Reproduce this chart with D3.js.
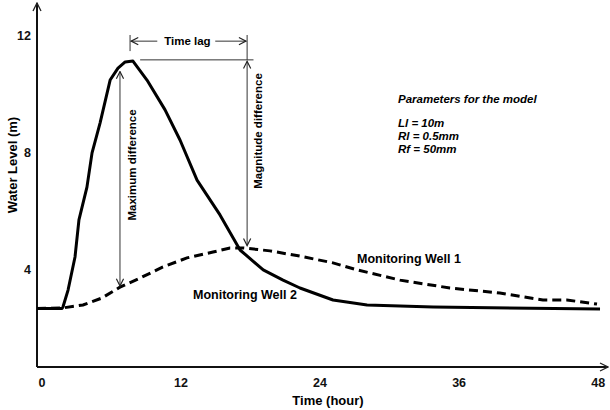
<!DOCTYPE html>
<html><head><meta charset="utf-8">
<script src="https://cdn.jsdelivr.net/npm/d3@7"></script>
<style>
body{margin:0;background:#fff;}
text{font-family:"Liberation Sans",Arial,sans-serif;}
</style></head>
<body><svg id="c" width="610" height="410"></svg>
<script>
// ---- data ----
const well2Hours  = [-0.38,1.78,1.86,2.30,2.90,3.24,3.93,4.37,5.06,5.93,6.61,7.23,7.90,9.11,10.67,11.96,13.43,15.41,17.14,19.14,20.85,22.31,25.16,28.1,33.8,48.2];
const well2Levels = [2.65,2.65,2.70,3.28,4.41,5.68,6.80,7.97,8.99,10.46,10.87,11.08,11.11,10.46,9.44,8.41,7.04,5.85,4.65,3.97,3.62,3.35,2.94,2.77,2.70,2.63];
const well1Hours  = [-0.38,1.86,3.59,5.23,6.78,8.51,10.49,12.56,14.81,16.27,17.39,19.72,22.31,25.16,27.23,30.94,35.25,39.56,43.27,45.34,47.94];
const well1Levels = [2.65,2.67,2.77,3.01,3.38,3.69,4.07,4.38,4.58,4.72,4.72,4.62,4.44,4.21,3.97,3.62,3.35,3.18,2.94,2.94,2.80];
const xTicks = [0,12,24,36,48];
const yTicks = [4,8,12];
const paramLines = ["Ll = 10m","Rl = 0.5mm","Rf = 50mm"];

const svg = d3.select("#c");
const x = d3.scaleLinear().domain([0,48]).range([41.4,597.7]);
const y = d3.scaleLinear().domain([4,12]).range([269,35]);
const axisY0 = 367, axisX0 = 37;

const defs = svg.append("defs");
function marker(id, w){
  defs.append("marker").attr("id",id).attr("viewBox","0 0 10 10").attr("refX",9).attr("refY",5)
    .attr("markerWidth",w).attr("markerHeight",w).attr("orient","auto-start-reverse").attr("markerUnits","userSpaceOnUse")
    .append("path").attr("d","M1,1 L9,5 L1,9").attr("fill","none").attr("stroke","#222").attr("stroke-width",1.3);
}
marker("axArrow",10);
marker("anArrow",9);

// axes lines
svg.append("line").attr("x1",axisX0).attr("y1",axisY0).attr("x2",axisX0).attr("y2",3)
  .attr("stroke","#111").attr("stroke-width",2).attr("marker-end","url(#axArrow)");
svg.append("line").attr("x1",axisX0).attr("y1",axisY0).attr("x2",608).attr("y2",axisY0)
  .attr("stroke","#111").attr("stroke-width",2).attr("marker-end","url(#axArrow)");

const gx = svg.append("g").attr("transform",`translate(0,${axisY0})`)
  .call(d3.axisBottom(x).tickValues(xTicks).tickSize(0).tickPadding(11.5));
gx.select(".domain").remove();
gx.selectAll("text").attr("font-size",12.5).attr("font-weight","bold").attr("fill","#111")
  .attr("font-family","'Liberation Sans',Arial,sans-serif");
const gy = svg.append("g").attr("transform",`translate(${axisX0},0)`)
  .call(d3.axisLeft(y).tickValues(yTicks).tickSize(0).tickPadding(6));
gy.select(".domain").remove();
gy.selectAll("text").attr("font-size",12.5).attr("font-weight","bold").attr("fill","#111")
  .attr("font-family","'Liberation Sans',Arial,sans-serif");

svg.append("text").attr("x",328).attr("y",405).attr("text-anchor","middle")
  .attr("font-size",13).attr("font-weight","bold").text("Time (hour)");
svg.append("text").attr("transform","translate(17,165) rotate(-90)").attr("text-anchor","middle")
  .attr("font-size",13).attr("font-weight","bold").text("Water Level (m)");

// curves
const line = d3.line().x(d=>x(d[0])).y(d=>y(d[1]));
const w1 = well1Hours.map((h,i)=>[h,well1Levels[i]]);
const w2 = well2Hours.map((h,i)=>[h,well2Levels[i]]);
svg.append("path").attr("d",line(w1)).attr("fill","none").attr("stroke","#000")
  .attr("stroke-width",3).attr("stroke-dasharray","9,5");
svg.append("path").attr("d",line(w2)).attr("fill","none").attr("stroke","#000")
  .attr("stroke-width",3).attr("stroke-linejoin","round");

// annotations (data units)
const ann = svg.append("g").attr("stroke","#333").attr("stroke-width",1).attr("fill","none");
const lagStart = 7.65, lagEnd = 17.75, lagLevel = 11.79;
ann.append("line").attr("x1",x(lagStart)).attr("x2",x(lagStart)).attr("y1",y(12.0)).attr("y2",y(11.45));
ann.append("line").attr("x1",x(lagEnd)).attr("x2",x(lagEnd)).attr("y1",y(12.0)).attr("y2",y(11.15));
ann.append("line").attr("x1",x(10.0)).attr("x2",x(lagStart)+1).attr("y1",y(lagLevel)).attr("y2",y(lagLevel))
  .attr("marker-end","url(#anArrow)");
ann.append("line").attr("x1",x(15.0)).attr("x2",x(lagEnd)-1).attr("y1",y(lagLevel)).attr("y2",y(lagLevel))
  .attr("marker-end","url(#anArrow)");
ann.append("line").attr("x1",x(8.52)).attr("x2",x(18.3)).attr("y1",y(11.15)).attr("y2",y(11.15));
// magnitude difference
ann.append("line").attr("x1",x(lagEnd)).attr("x2",x(lagEnd)).attr("y1",y(11.1)).attr("y2",y(4.8))
  .attr("marker-start","url(#anArrow)").attr("marker-end","url(#anArrow)");
// maximum difference
ann.append("line").attr("x1",x(6.78)).attr("x2",x(6.78)).attr("y1",y(10.75)).attr("y2",y(3.42))
  .attr("marker-start","url(#anArrow)").attr("marker-end","url(#anArrow)");

svg.append("text").attr("x",x(12.6)).attr("y",y(lagLevel)+4).attr("text-anchor","middle")
  .attr("font-size",11.5).attr("font-weight","bold").text("Time lag");
svg.append("text").attr("transform",`translate(${x(6.78)+16},165) rotate(-90)`).attr("text-anchor","middle")
  .attr("font-size",11.5).attr("font-weight","bold").text("Maximum difference");
svg.append("text").attr("transform",`translate(${x(lagEnd)+15},131) rotate(-90)`).attr("text-anchor","middle")
  .attr("font-size",11.5).attr("font-weight","bold").text("Magnitude difference");

svg.append("text").attr("x",357).attr("y",263).attr("font-size",12.5).attr("font-weight","bold").text("Monitoring Well 1");
svg.append("text").attr("x",193).attr("y",299).attr("font-size",12.5).attr("font-weight","bold").text("Monitoring Well 2");

svg.append("text").attr("x",398).attr("y",103).attr("font-size",11.5).attr("font-weight","bold")
  .attr("font-style","italic").text("Parameters for the model");
svg.selectAll(".param").data(paramLines).enter().append("text").attr("class","param")
  .attr("x",398).attr("y",(d,i)=>127+i*13).attr("font-size",11.5).attr("font-weight","bold")
  .attr("font-style","italic").text(d=>d);
</script></body></html>
